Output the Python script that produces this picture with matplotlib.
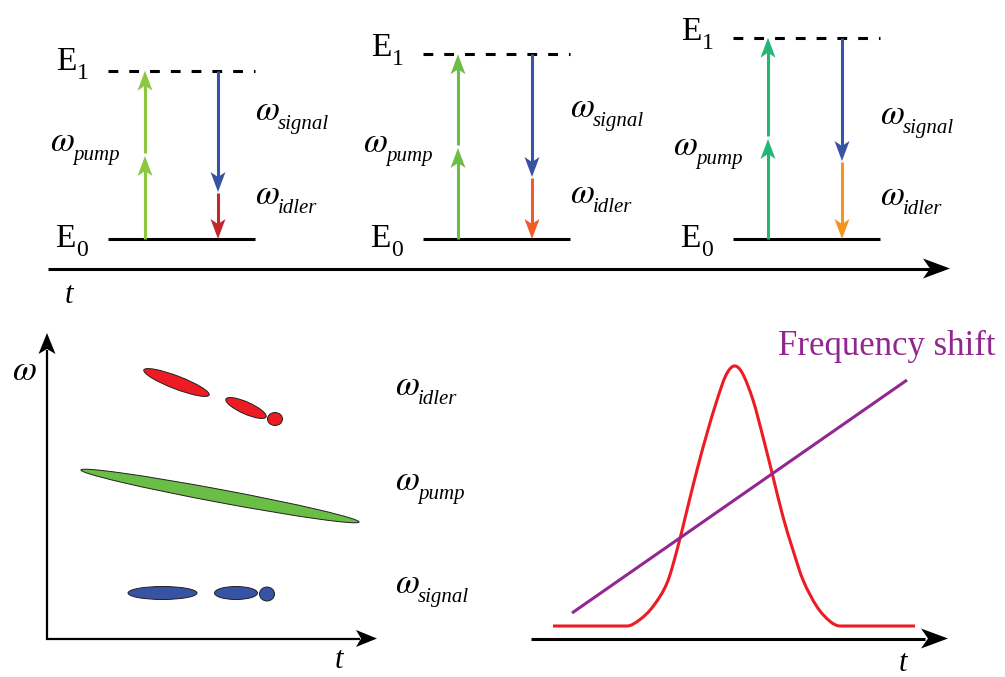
import matplotlib.pyplot as plt
from matplotlib.patches import Polygon, Ellipse, PathPatch
from matplotlib.path import Path

SERIF = 'Liberation Serif'
plt.rcParams['mathtext.fontset'] = 'stix'

# --- energy level diagrams (three moments in time) ---
level_left = [108, 423, 733]
level_width = 147
e0_level = 239
e1_levels = [70.7, 54.3, 37.7]        # E1 drifts upward in time
pump_x = [145, 458, 768]
pump_mid = [156, 148, 139]            # tip of the first pump photon
signal_x = [218, 532, 842]
signal_end = [192, 177, 161]          # where signal hands over to idler
pump_colors = ['#8dc63f', '#6cbd45', '#25b574']
idler_colors = ['#c1272d', '#f15a29', '#f7941d']
signal_color = '#3953a4'

# --- spectrogram blobs (centre x, centre y, length, thickness, tilt) ---
idler_spots = [(176.5, 382.5, 70, 13, 21), (246, 408, 44, 12, 24), (275, 419, 15, 13, 0)]
pump_spots = [(220, 496, 283, 13, 10.6)]
signal_spots = [(162.5, 593, 69, 13, 0), (236, 593, 43, 13, 0), (267, 594, 15, 14, 0)]

# --- pulse envelope and chirp (time relative to peak, normalised amplitude) ---
pulse_t = [-181, -107, -94, -81, -67, -57, -47, -37, -27, -17, -8, 0,
           8, 19, 29, 39, 49, 59, 69, 83, 96, 106, 181]
pulse_amp = [0, 0, 0.025, 0.075, 0.165, 0.292, 0.446, 0.600, 0.741, 0.869, 0.965,
             1.0, 0.975, 0.869, 0.727, 0.574, 0.420, 0.292, 0.177, 0.074, 0.018, 0, 0]
chirp_t = [-162, 173]
chirp_val = [0.05, 0.946]

fig = plt.figure(figsize=(10.05, 6.77), dpi=100)
ax = fig.add_axes([0, 0, 1, 1])
ax.set_xlim(0, 1005)
ax.set_ylim(677, 0)
ax.axis('off')


def head(x, y, dx, dy, color, length=20, half=7.5, notch=5):
    # notched arrow head with its tip at (x, y), pointing along (dx, dy)
    px, py = -dy, dx
    bx, by = x - dx * length, y - dy * length
    nx, ny = x - dx * (length - notch), y - dy * (length - notch)
    pts = [(x, y), (bx + px * half, by + py * half), (nx, ny),
           (bx - px * half, by - py * half)]
    ax.add_patch(Polygon(pts, closed=True, fc=color, ec='none', zorder=4))


def smooth_path(xs, ys):
    # cubic Hermite curve through the points, drawn as Bezier segments
    n = len(xs)
    slopes = []
    for i in range(n):
        if i == 0 or i == n - 1 or ys[i - 1] == ys[i] or ys[i + 1] == ys[i]:
            slopes.append(0.0)
        else:
            slopes.append((ys[i + 1] - ys[i - 1]) / (xs[i + 1] - xs[i - 1]))
    verts = [(xs[0], ys[0])]
    codes = [Path.MOVETO]
    for i in range(n - 1):
        h = (xs[i + 1] - xs[i]) / 3
        verts += [(xs[i] + h, ys[i] + slopes[i] * h),
                  (xs[i + 1] - h, ys[i + 1] - slopes[i + 1] * h),
                  (xs[i + 1], ys[i + 1])]
        codes += [Path.CURVE4] * 3
    return Path(verts, codes)


def omega(x, y, sub, size=25, subsize=15):
    ax.text(x, y, r'$\omega$', fontsize=size, va='baseline')
    ax.text(x + 23, y + 9, sub, fontsize=subsize, style='italic', family=SERIF,
            va='baseline')


def level_label(x, y, idx):
    ax.text(x, y, 'E', fontsize=24, family=SERIF, va='baseline')
    ax.text(x + 21, y + 9, idx, fontsize=17, family=SERIF, va='baseline')


lw = 2.2
e1_label_base = [70, 56, 40]
signal_label_base = [120, 117, 124]
idler_label_base = [204, 203, 205]
pump_label_base = [151, 152, 155]
pump_label_x = [50, 363, 673]

for i in range(3):
    x0 = level_left[i]
    e1 = e1_levels[i]
    ax.plot([x0, x0 + level_width], [e0_level, e0_level], color='black', lw=lw,
            solid_capstyle='butt')
    ax.plot([x0, x0 + level_width], [e1, e1], color='black', lw=lw,
            dashes=(3.2, 3.6), dash_capstyle='butt')

    # two pump photons stacked from E0 to E1
    px = pump_x[i]
    pc = pump_colors[i]
    ax.plot([px, px], [e0_level, pump_mid[i] + 10], color=pc, lw=lw, solid_capstyle='butt')
    ax.plot([px, px], [pump_mid[i] - 3, e1 + 12], color=pc, lw=lw, solid_capstyle='butt')
    head(px, pump_mid[i], 0, -1, pc)
    head(px, e1, 0, -1, pc)

    # signal then idler back down to E0
    sx = signal_x[i]
    ax.plot([sx, sx], [e1, signal_end[i] - 10], color=signal_color, lw=lw,
            solid_capstyle='butt')
    head(sx, signal_end[i], 0, 1, signal_color)
    ax.plot([sx, sx], [signal_end[i] + 1, e0_level - 10], color=idler_colors[i], lw=lw,
            solid_capstyle='butt')
    head(sx, e0_level, 0, 1, idler_colors[i])

    level_label(x0 - 52, e1_label_base[i], '1')
    level_label(x0 - 53, 247, '0')
    omega(pump_label_x[i], pump_label_base[i], 'pump')
    omega(x0 + 147, signal_label_base[i], 'signal')
    omega(x0 + 147, idler_label_base[i], 'idler')

# time axis under the level diagrams
ax.plot([48, 930], [268.5, 268.5], color='black', lw=lw, solid_capstyle='butt')
head(950, 268.5, 1, 0, 'black', length=27, half=10, notch=7)
ax.text(65, 303, 't', fontsize=22, style='italic', family=SERIF, va='baseline')

# --- spectrogram panel ---
ax.plot([47, 47], [639.5, 350], color='black', lw=1.6, solid_capstyle='butt')
head(47, 333, 0, -1, 'black', length=21, half=8.5, notch=5)
ax.plot([46, 360], [638.5, 638.5], color='black', lw=1.6, solid_capstyle='butt')
head(377, 638.5, 1, 0, 'black', length=21, half=8.5, notch=5)
ax.text(12, 380, r'$\omega$', fontsize=25, va='baseline')
ax.text(335, 668, 't', fontsize=22, style='italic', family=SERIF, va='baseline')

for spots, color in [(idler_spots, '#ed1c24'), (pump_spots, '#6abd45'),
                     (signal_spots, '#3953a4')]:
    for cx, cy, w, h, ang in spots:
        ax.add_patch(Ellipse((cx, cy), w, h, angle=ang, fc=color, ec='#231f20',
                             lw=0.7, zorder=3))

omega(395, 395, 'idler')
omega(395, 490, 'pump')
omega(395, 593, 'signal')

# --- pulse and its frequency shift ---
peak_x, base_y, peak_h = 734, 626, 260
pulse = smooth_path([peak_x + t for t in pulse_t], [base_y - a * peak_h for a in pulse_amp])
ax.add_patch(PathPatch(pulse, fc='none', ec='#ed1c24', lw=2.2, joinstyle='round',
                       capstyle='butt'))
ax.plot([peak_x + t for t in chirp_t], [base_y - v * peak_h for v in chirp_val],
        color='#92278f', lw=2.2, solid_capstyle='butt')
ax.text(778, 355, 'Frequency shift', fontsize=25, family=SERIF, color='#92278f',
        va='baseline')

ax.plot([531, 925], [638.5, 638.5], color='black', lw=lw, solid_capstyle='butt')
head(948, 638.5, 1, 0, 'black', length=27, half=10, notch=7)
ax.text(899, 671, 't', fontsize=22, style='italic', family=SERIF, va='baseline')

fig.savefig('out.png', dpi=100)
